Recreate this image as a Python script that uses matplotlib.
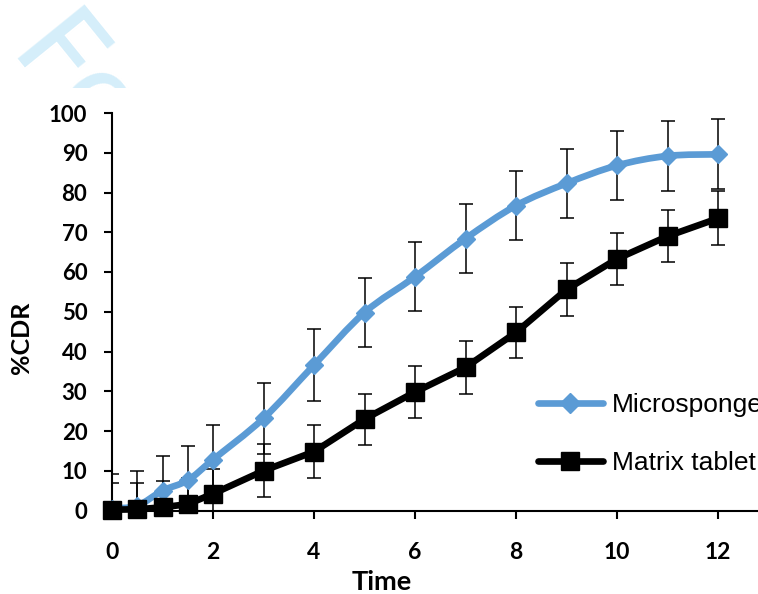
import matplotlib
matplotlib.use('Agg')
import matplotlib.pyplot as plt
from matplotlib.path import Path
from matplotlib.patches import PathPatch, Rectangle
from matplotlib.lines import Line2D

time = [0, 0.5, 1, 1.5, 2, 3, 4, 5, 6, 7, 8, 9, 10, 11, 12]
microsponge = [0.5, 1.2, 5, 7.6, 12.8, 23.2, 36.6, 49.8, 58.8, 68.4, 76.7, 82.3, 86.8, 89.2, 89.6]
microsponge_err = [8.8, 8.8, 8.6, 8.6, 8.8, 9.0, 9.0, 8.7, 8.7, 8.6, 8.6, 8.7, 8.7, 8.8, 8.8]
matrix_tablet = [0.2, 0.3, 0.8, 1.6, 4.2, 10.0, 14.8, 23.0, 29.8, 36.0, 44.8, 55.6, 63.3, 69.0, 73.5]
matrix_err = [6.6, 6.6, 6.5, 6.5, 6.3, 6.7, 6.6, 6.4, 6.5, 6.6, 6.5, 6.6, 6.6, 6.6, 6.8]
labels = ['Microsponge', 'Matrix tablet']

blue = '#5B9BD5'
tick_font = ['Lato', 'DejaVu Sans']


def smooth_path(xs, ys):
    # Excel-style smoothed line (Catmull-Rom bezier through the points)
    n = len(xs)
    verts = [(xs[0], ys[0])]
    codes = [Path.MOVETO]
    for i in range(n - 1):
        a = max(i - 1, 0)
        d = min(i + 2, n - 1)
        c1 = (xs[i] + (xs[i + 1] - xs[a]) / 6, ys[i] + (ys[i + 1] - ys[a]) / 6)
        c2 = (xs[i + 1] - (xs[d] - xs[i]) / 6, ys[i + 1] - (ys[d] - ys[i]) / 6)
        verts += [c1, c2, (xs[i + 1], ys[i + 1])]
        codes += [Path.CURVE4] * 3
    return Path(verts, codes)


fig = plt.figure(figsize=(7.58, 5.94), dpi=100)
ax = fig.add_axes([112 / 758, 83.5 / 594, 707 / 758, 397.5 / 594])

# watermark, only visible above the chart image
wm = fig.text(5 / 758, 1 - 58 / 594, 'For', rotation=-51, rotation_mode='anchor',
              ha='left', va='baseline', fontsize=84, color='#D5EEFA', family='DejaVu Sans')
wm.set_clip_path(Rectangle((0, 1 - 88 / 594), 1, 88 / 594, transform=fig.transFigure))

ax.errorbar(time, microsponge, yerr=microsponge_err, fmt='none', ecolor='black',
            elinewidth=1.1, capsize=5, capthick=1.1, zorder=2)
ax.errorbar(time, matrix_tablet, yerr=matrix_err, fmt='none', ecolor='black',
            elinewidth=1.1, capsize=5, capthick=1.1, zorder=2)

ax.add_patch(PathPatch(smooth_path(time, microsponge), fill=False, edgecolor=blue, lw=4.8,
                       capstyle='round', joinstyle='round', zorder=3, clip_on=False))
ax.plot(time, microsponge, linestyle='none', marker='D', ms=9.5, color=blue,
        clip_on=False, zorder=4)
ax.plot(time, matrix_tablet, color='black', lw=4.8, marker='s', ms=13.5,
        solid_capstyle='round', solid_joinstyle='round', clip_on=False, zorder=5)

ax.set_xlim(0, 14)
ax.set_ylim(0, 100)
ax.set_xticks(range(0, 13, 2))
ax.set_yticks(range(0, 101, 10))
for s in ['top', 'right']:
    ax.spines[s].set_visible(False)
for s in ['left', 'bottom']:
    ax.spines[s].set_linewidth(1.5)
ax.tick_params(axis='both', direction='out', length=5.8, width=1.5)
ax.tick_params(axis='y', pad=12, labelsize=16)
ax.tick_params(axis='x', pad=17, labelsize=16.5)
for lab in ax.get_xticklabels() + ax.get_yticklabels():
    lab.set_family(tick_font)
    lab.set_fontweight('bold')

ax.set_xlabel('Time', fontsize=19.5, fontweight='bold', family=tick_font)
ax.set_ylabel('%CDR', fontsize=18, fontweight='bold', family=tick_font)
ax.xaxis.set_label_coords(0.381, -0.15)
ax.yaxis.set_label_coords(-0.112, 0.434)

handles = [
    Line2D([], [], color=blue, lw=4.8, marker='D', ms=10, solid_capstyle='round'),
    Line2D([], [], color='black', lw=4.8, marker='s', ms=13.5, solid_capstyle='round'),
]
fig.legend(handles, labels, loc='upper left', bbox_to_anchor=(538 / 758, 1 - 393 / 594),
           frameon=False, prop={'family': 'Liberation Sans', 'size': 19},
           handlelength=2.46, handletextpad=0.34, labelspacing=1.29,
           borderpad=0, borderaxespad=0)

fig.savefig('out.png', dpi=100)
